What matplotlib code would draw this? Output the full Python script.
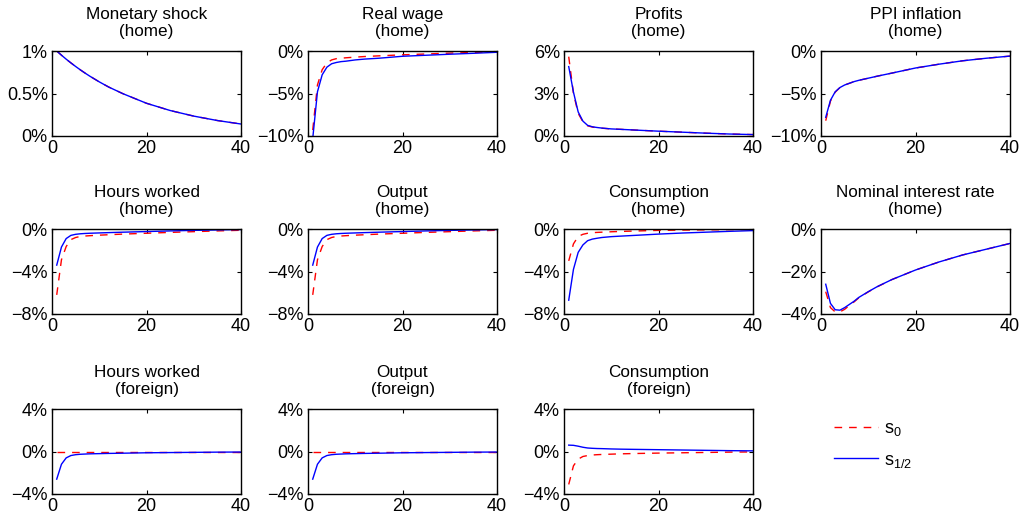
import matplotlib
matplotlib.use('Agg')
import matplotlib.pyplot as plt
from matplotlib.ticker import FuncFormatter

plt.rcParams['font.family'] = ['Liberation Sans', 'DejaVu Sans']
plt.rcParams['mathtext.fontset'] = 'custom'
plt.rcParams['mathtext.rm'] = 'Liberation Sans'
plt.rcParams['mathtext.it'] = 'Liberation Sans'

# quarters after the shock
periods = [1, 2, 3, 4, 5, 6, 7, 8, 10, 12, 15, 20, 25, 30, 35, 40]

shock_s0 = [1.0, 0.951, 0.904, 0.86, 0.818, 0.778, 0.74, 0.704, 0.637, 0.576, 0.498, 0.385, 0.30, 0.234, 0.182, 0.141]
shock_s12 = [1.0, 0.951, 0.904, 0.86, 0.818, 0.778, 0.74, 0.704, 0.637, 0.576, 0.498, 0.385, 0.30, 0.234, 0.182, 0.141]

wage_s0 = [-9.3, -4.0, -2.2, -1.4, -1.05, -0.9, -0.85, -0.8, -0.72, -0.65, -0.57, -0.45, -0.35, -0.25, -0.17, -0.1]
wage_s12 = [-10.3, -4.8, -2.8, -1.9, -1.5, -1.35, -1.25, -1.2, -1.05, -0.95, -0.85, -0.62, -0.5, -0.38, -0.27, -0.15]

profits_s0 = [5.6, 3.0, 1.6, 1.0, 0.72, 0.63, 0.58, 0.55, 0.5, 0.47, 0.42, 0.34, 0.27, 0.2, 0.14, 0.1]
profits_s12 = [4.9, 3.1, 1.7, 1.05, 0.75, 0.65, 0.6, 0.56, 0.5, 0.47, 0.42, 0.34, 0.27, 0.2, 0.14, 0.1]

ppi_s0 = [-8.2, -5.9, -4.85, -4.3, -4.0, -3.8, -3.6, -3.45, -3.2, -2.95, -2.6, -2.0, -1.55, -1.15, -0.85, -0.6]
ppi_s12 = [-7.8, -5.8, -4.8, -4.3, -4.0, -3.8, -3.6, -3.45, -3.2, -2.95, -2.6, -2.0, -1.55, -1.15, -0.85, -0.6]

hours_s0 = [-6.2, -2.9, -1.65, -1.0, -0.8, -0.7, -0.66, -0.63, -0.58, -0.54, -0.48, -0.4, -0.32, -0.25, -0.18, -0.12]
hours_s12 = [-3.4, -1.7, -0.9, -0.6, -0.5, -0.45, -0.42, -0.4, -0.37, -0.34, -0.3, -0.24, -0.18, -0.13, -0.09, -0.05]

output_s0 = [-6.2, -2.9, -1.65, -1.0, -0.8, -0.7, -0.66, -0.63, -0.58, -0.54, -0.48, -0.4, -0.32, -0.25, -0.18, -0.12]
output_s12 = [-3.4, -1.7, -0.9, -0.6, -0.5, -0.45, -0.42, -0.4, -0.37, -0.34, -0.3, -0.24, -0.18, -0.13, -0.09, -0.05]

cons_s0 = [-3.0, -1.4, -0.7, -0.5, -0.4, -0.35, -0.32, -0.3, -0.26, -0.23, -0.19, -0.13, -0.1, -0.08, -0.06, -0.05]
cons_s12 = [-6.7, -3.8, -2.2, -1.5, -1.1, -0.95, -0.87, -0.8, -0.72, -0.67, -0.6, -0.48, -0.38, -0.3, -0.22, -0.15]

rate_s0 = [-2.95, -3.7, -3.9, -3.9, -3.78, -3.6, -3.43, -3.24, -2.96, -2.71, -2.38, -1.93, -1.55, -1.22, -0.95, -0.68]
rate_s12 = [-2.6, -3.5, -3.8, -3.82, -3.7, -3.55, -3.4, -3.22, -2.95, -2.7, -2.38, -1.93, -1.55, -1.22, -0.95, -0.68]

hours_f_s0 = [0.0] * 16
hours_f_s12 = [-2.6, -1.2, -0.6, -0.38, -0.3, -0.26, -0.24, -0.22, -0.2, -0.18, -0.16, -0.12, -0.1, -0.08, -0.06, -0.05]

output_f_s0 = [0.0] * 16
output_f_s12 = [-2.6, -1.2, -0.6, -0.38, -0.3, -0.26, -0.24, -0.22, -0.2, -0.18, -0.16, -0.12, -0.1, -0.08, -0.06, -0.05]

cons_f_s0 = [-3.1, -1.35, -0.72, -0.47, -0.38, -0.33, -0.3, -0.28, -0.25, -0.22, -0.19, -0.15, -0.12, -0.09, -0.06, -0.04]
cons_f_s12 = [0.6, 0.58, 0.5, 0.4, 0.33, 0.3, 0.28, 0.27, 0.24, 0.22, 0.2, 0.17, 0.14, 0.11, 0.08, 0.06]

panels = [
    ('Monetary shock\n(home)', shock_s0, shock_s12, [0, 0.5, 1]),
    ('Real wage\n(home)', wage_s0, wage_s12, [-10, -5, 0]),
    ('Profits\n(home)', profits_s0, profits_s12, [0, 3, 6]),
    ('PPI inflation\n(home)', ppi_s0, ppi_s12, [-10, -5, 0]),
    ('Hours worked\n(home)', hours_s0, hours_s12, [-8, -4, 0]),
    ('Output\n(home)', output_s0, output_s12, [-8, -4, 0]),
    ('Consumption\n(home)', cons_s0, cons_s12, [-8, -4, 0]),
    ('Nominal interest rate\n(home)', rate_s0, rate_s12, [-4, -2, 0]),
    ('Hours worked\n(foreign)', hours_f_s0, hours_f_s12, [-4, 0, 4]),
    ('Output\n(foreign)', output_f_s0, output_f_s12, [-4, 0, 4]),
    ('Consumption\n(foreign)', cons_f_s0, cons_f_s12, [-4, 0, 4]),
]

W, H = 1022, 523
col_left = [52, 308, 564, 821]
row_top = [51, 229, 409]
ax_w, ax_h = 189, 85


def pct(v, pos):
    s = f'{v:g}%'
    return s.replace('-', '\u2212')


fig = plt.figure(figsize=(W / 100, H / 100), dpi=100)

for i, (title, s0, s12, yt) in enumerate(panels):
    r, c = divmod(i, 4)
    ax = fig.add_axes([col_left[c] / W, (H - row_top[r] - ax_h) / H, ax_w / W, ax_h / H])
    l0, = ax.plot(periods, s0, color='red', lw=1.0, dashes=(5.5, 5))
    l1, = ax.plot(periods, s12, color='blue', lw=1.0)
    ax.set_xlim(0, 40)
    ax.set_ylim(yt[0], yt[-1])
    ax.set_xticks([0, 20, 40])
    ax.set_yticks(yt)
    ax.yaxis.set_major_formatter(FuncFormatter(pct))
    ax.tick_params(direction='in', top=True, right=True, length=3, labelsize=13, pad=3)
    for sp in ax.spines.values():
        sp.set_linewidth(1.0)
    ax.set_title(title, fontsize=12.3, pad=11, linespacing=1.13)

fig.legend([l0, l1], [r'$\mathrm{s}_0$', r'$\mathrm{s}_{1/2}$'],
           loc='upper left', bbox_to_anchor=(818 / W, 1 - 404 / H),
           frameon=False, fontsize=13, handlelength=2.45, handletextpad=0.3,
           labelspacing=0.75)

fig.savefig('out.png', dpi=100)
